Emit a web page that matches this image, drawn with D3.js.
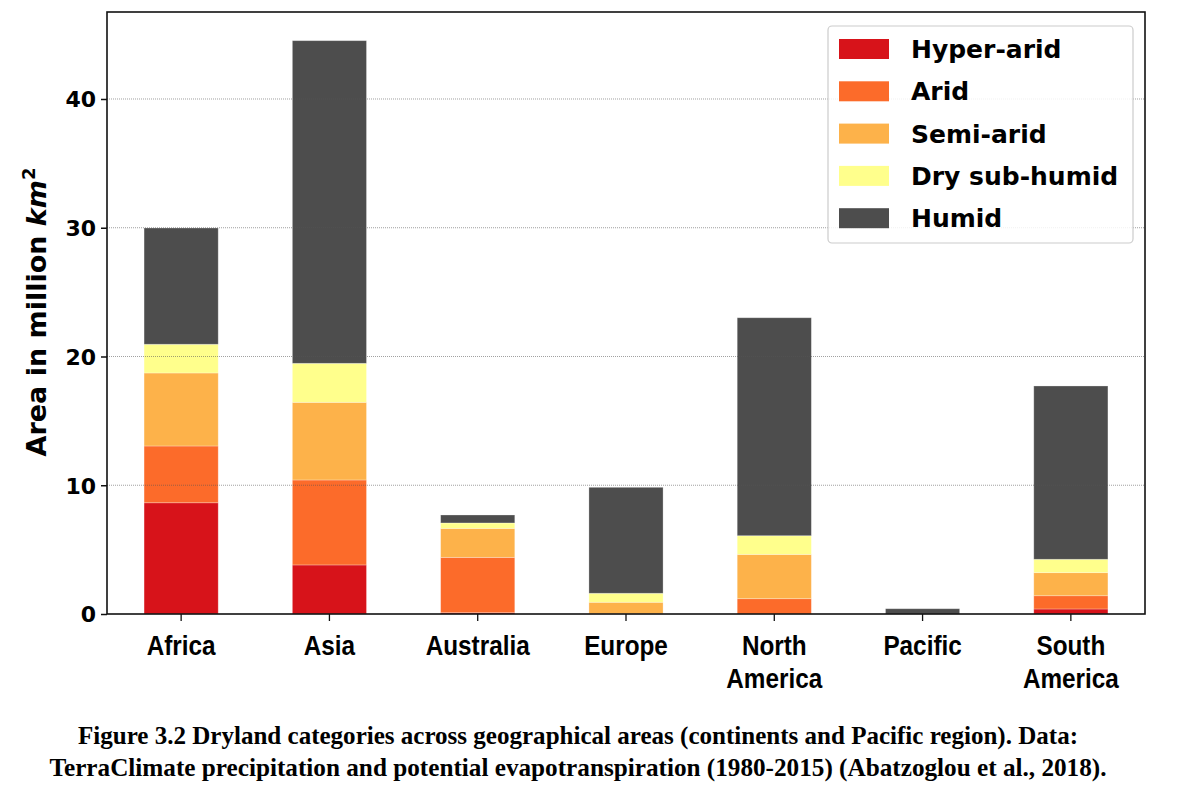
<!DOCTYPE html>
<html>
<head>
<meta charset="utf-8">
<script src="https://cdn.jsdelivr.net/npm/d3@7"></script>
<style>
  html, body { margin: 0; padding: 0; background: #fff; }
  svg { display: block; }
</style>
</head>
<body>
<svg id="chart" width="1189" height="788"></svg>
<script>
const regions = ["Africa", "Asia", "Australia", "Europe", "North America", "Pacific", "South America"];
const categories = ["Hyper-arid", "Arid", "Semi-arid", "Dry sub-humid", "Humid"];
const hyperArid   = [8.64, 3.81, 0.10, 0.00, 0.00, 0.00, 0.39];
const arid        = [4.41, 6.60, 4.30, 0.02, 1.19, 0.00, 1.03];
const semiArid    = [5.67, 6.03, 2.25, 0.89, 3.44, 0.00, 1.79];
const drySubHumid = [2.23, 3.03, 0.42, 0.70, 1.45, 0.00, 1.04];
const humid       = [9.03, 25.06, 0.62, 8.23, 16.93, 0.41, 13.46];
const yTicks = [0, 10, 20, 30, 40];
const colors = ["#d7131a", "#fc6b2a", "#fdb24a", "#ffff8c", "#4d4d4d"];
const yLabel = "Area in million ";
const caption1 = "Figure 3.2 Dryland categories across geographical areas (continents and Pacific region). Data:";
const caption2 = "TerraClimate precipitation and potential evapotranspiration (1980-2015) (Abatzoglou et al., 2018).";

(function () {
const seriesValues = [hyperArid, arid, semiArid, drySubHumid, humid];
const table = regions.map((r, i) => {
  const o = { region: r };
  categories.forEach((c, k) => o[c] = seriesValues[k][i]);
  return o;
});
const stacked = d3.stack().keys(categories)(table);
const maxTotal = d3.max(table, d => d3.sum(categories, c => d[c]));

const svg = d3.select("#chart");
const pL = 107, pR = 1145, pT = 12, pB = 614;

const x = d3.scaleBand().domain(regions).range([pL, pR]).paddingInner(0.5).paddingOuter(0.25);
const y = d3.scaleLinear().domain([0, maxTotal * 1.05]).range([pB, pT]);

// bars
const g = svg.append("g");
g.selectAll("g.layer").data(stacked).enter().append("g")
  .attr("fill", (d, i) => colors[i])
  .selectAll("rect").data(d => d).enter().append("rect")
  .attr("x", d => x(d.data.region))
  .attr("width", x.bandwidth())
  .attr("y", d => y(d[1]))
  .attr("height", d => Math.max(0, y(d[0]) - y(d[1])))
  .attr("stroke", "rgba(255,255,255,0.35)")
  .attr("stroke-width", 0.8);

// grid lines (on top of bars)
svg.append("g").selectAll("line").data(yTicks.filter(t => t > 0)).enter().append("line")
  .attr("x1", pL).attr("x2", pR)
  .attr("y1", d => y(d)).attr("y2", d => y(d))
  .attr("stroke", "#555").attr("stroke-width", 0.8)
  .attr("stroke-dasharray", "1,1").attr("opacity", 0.7);

// frame
svg.append("rect").attr("x", pL).attr("y", pT)
  .attr("width", pR - pL).attr("height", pB - pT)
  .attr("fill", "none").attr("stroke", "#111").attr("stroke-width", 1.6);

// y axis
const yAxis = svg.append("g").attr("transform", `translate(${pL},0)`)
  .call(d3.axisLeft(y).tickValues(yTicks).tickSize(6).tickPadding(5).tickFormat(d3.format("d")));
yAxis.select(".domain").remove();
yAxis.selectAll(".tick line").attr("stroke", "#111").attr("stroke-width", 1.5);
yAxis.selectAll(".tick text")
  .attr("font-family", "DejaVu Sans, sans-serif").attr("font-weight", "bold")
  .attr("font-size", 22).attr("fill", "#000").attr("dy", "0.36em");

// x axis
const xAxis = svg.append("g").attr("transform", `translate(0,${pB})`)
  .call(d3.axisBottom(x).tickSize(7).tickFormat(""));
xAxis.select(".domain").remove();
xAxis.selectAll(".tick line").attr("stroke", "#111").attr("stroke-width", 1.3);

// x labels (multi-line, condensed)
const xl = svg.append("g");
regions.forEach(r => {
  const words = r.split(" ");
  words.forEach((w, i) => {
    const t = xl.append("text")
      .attr("x", x(r) + x.bandwidth() / 2)
      .attr("y", 655 + i * 33)
      .attr("text-anchor", "middle")
      .attr("font-family", "Liberation Sans, Arial, sans-serif")
      .attr("font-weight", "bold")
      .attr("font-size", 27)
      .attr("fill", "#000")
      .text(w);
    const len = t.node().getComputedTextLength();
    t.attr("textLength", len * 0.9).attr("lengthAdjust", "spacingAndGlyphs");
  });
});

// y label
const yl = svg.append("text")
  .attr("transform", "translate(46,312) rotate(-90)")
  .attr("text-anchor", "middle")
  .attr("font-family", "DejaVu Sans, sans-serif").attr("font-weight", "bold")
  .attr("font-size", 27).attr("fill", "#000");
yl.append("tspan").text(yLabel);
yl.append("tspan").attr("font-style", "italic").text("km");
yl.append("tspan").attr("font-size", 18).attr("dy", "-0.6em").text("2");

// legend
const lg = svg.append("g");
lg.append("rect").attr("x", 828).attr("y", 26).attr("width", 305).attr("height", 217)
  .attr("rx", 4).attr("fill", "#fff").attr("fill-opacity", 0.85)
  .attr("stroke", "#ccc").attr("stroke-width", 1.2);
categories.forEach((c, i) => {
  const cy = 49 + i * 42.3;
  lg.append("rect").attr("x", 839).attr("y", cy - 10).attr("width", 50).attr("height", 20)
    .attr("fill", colors[i]);
  lg.append("text").attr("x", 911).attr("y", cy + 9)
    .attr("font-family", "DejaVu Sans, sans-serif").attr("font-weight", "bold")
    .attr("font-size", 25).attr("fill", "#000").text(c);
});

// caption
const capWidths = [1000, 1057];
[caption1, caption2].forEach((t, i) => {
  svg.append("text")
    .attr("x", 578).attr("y", 744 + i * 32)
    .attr("text-anchor", "middle")
    .attr("font-family", "Liberation Serif, Times New Roman, serif")
    .attr("font-weight", "bold").attr("font-size", 26).attr("fill", "#000")
    .attr("textLength", capWidths[i]).attr("lengthAdjust", "spacingAndGlyphs")
    .text(t);
});
})();
</script>
</body>
</html>
